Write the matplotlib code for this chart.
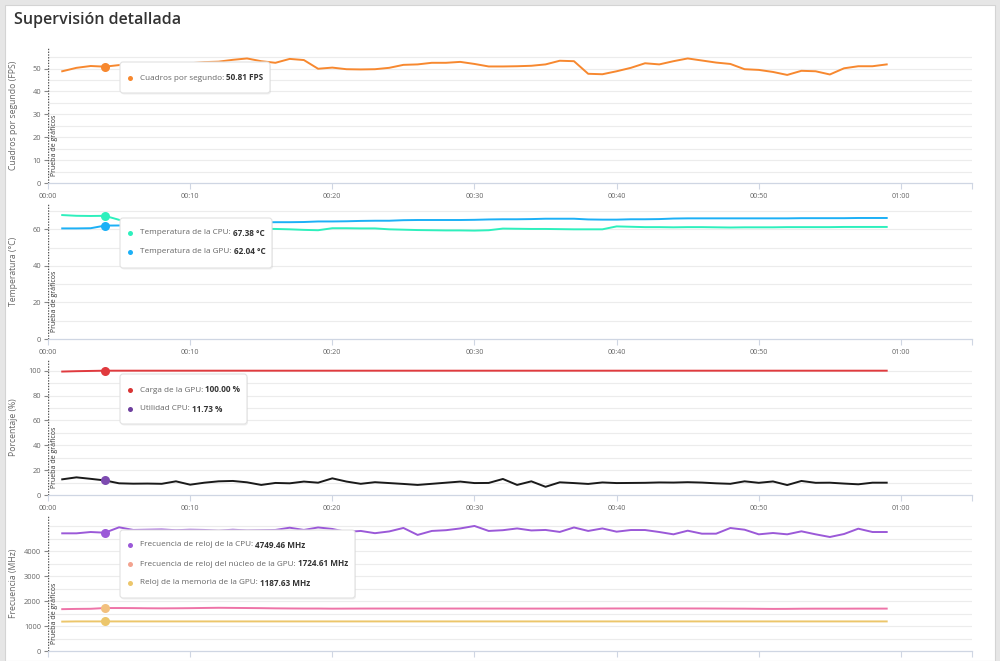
import matplotlib
matplotlib.use("Agg")
import matplotlib.pyplot as plt
from matplotlib.patches import FancyBboxPatch, Rectangle
from matplotlib.lines import Line2D
from matplotlib.transforms import IdentityTransform

plt.rcParams['font.family'] = ['Open Sans', 'DejaVu Sans']

# ---------------- data ----------------
seconds = list(range(1, 60))
x_ticks = [0, 10, 20, 30, 40, 50, 60]
x_tick_labels = ["00:00", "00:10", "00:20", "00:30", "00:40", "00:50", "01:00"]

fps = [48.8, 50.3, 51.1, 50.81, 51.5, 51.8, 51.6, 52.0, 51.4, 52.3, 52.8, 53.0, 53.8, 54.4, 53.2,
       52.5, 54.2, 53.7, 49.9, 50.4, 49.7, 49.6, 49.7, 50.3, 51.6, 51.8, 52.5, 52.5, 52.9, 52.0,
       50.9, 50.9, 51.0, 51.2, 51.8, 53.4, 53.2, 47.7, 47.5, 48.8, 50.3, 52.3, 51.8, 53.2, 54.4,
       53.5, 52.6, 52.0, 49.7, 49.4, 48.5, 47.2, 49.0, 48.8, 47.4, 50.1, 51.0, 51.0, 51.8]

cpu_temp = [67.8, 67.4, 67.3, 67.38, 65.2, 63.5, 62.8, 62.2, 61.8, 61.5, 61.2, 60.9, 60.6, 60.4, 60.3,
            60.2, 60.0, 59.7, 59.5, 60.6, 60.6, 60.5, 60.5, 60.0, 59.8, 59.6, 59.5, 59.4, 59.4, 59.3,
            59.5, 60.4, 60.3, 60.2, 60.2, 60.1, 60.0, 60.0, 60.0, 61.6, 61.4, 61.2, 61.2, 61.1, 61.2,
            61.2, 61.1, 61.0, 61.1, 61.1, 61.1, 61.2, 61.2, 61.2, 61.2, 61.3, 61.3, 61.3, 61.3]

gpu_temp = [60.5, 60.5, 60.6, 62.04, 62.1, 62.3, 62.5, 62.7, 62.9, 63.1, 63.3, 63.5, 63.6, 63.7, 63.8,
            63.9, 63.9, 64.0, 64.3, 64.3, 64.4, 64.6, 64.7, 64.7, 65.0, 65.1, 65.1, 65.1, 65.1, 65.2,
            65.4, 65.5, 65.5, 65.6, 65.8, 65.8, 65.8, 65.4, 65.3, 65.3, 65.5, 65.5, 65.6, 65.9, 66.0,
            66.0, 66.0, 66.0, 66.0, 66.0, 66.0, 66.0, 66.1, 66.1, 66.1, 66.1, 66.2, 66.2, 66.2]

gpu_load = [99.3, 99.6, 99.8, 100.0] + [100.0] * 55

cpu_util = [12.6, 14.2, 13.0, 11.73, 9.4, 9.1, 9.2, 9.0, 11.0, 8.3, 9.9, 11.0, 11.3, 10.2, 8.1,
            9.7, 9.4, 10.8, 9.9, 13.4, 10.8, 9.0, 10.3, 9.6, 8.9, 8.1, 9.0, 9.9, 10.8, 9.6,
            9.7, 12.9, 8.1, 11.0, 6.6, 10.2, 9.6, 8.9, 10.1, 9.6, 9.7, 9.8, 10.1, 10.0, 10.3,
            10.0, 9.4, 9.0, 11.0, 9.8, 10.9, 8.0, 11.3, 9.8, 9.9, 9.2, 8.6, 9.9, 9.9]

cpu_clock = [4724, 4724, 4777, 4749.46, 4966, 4860, 4870, 4880, 4850, 4870, 4860, 4830, 4870, 4840, 4850,
             4860, 4950, 4860, 4960, 4900, 4780, 4820, 4730, 4800, 4940, 4660, 4820, 4850, 4920, 5020,
             4820, 4850, 4920, 4840, 4860, 4780, 4960, 4820, 4920, 4790, 4857, 4857, 4777, 4684, 4830,
             4710, 4710, 4938, 4870, 4684, 4737, 4684, 4805, 4684, 4577, 4697, 4911, 4777, 4777]

gpu_core_clock = [1680, 1690, 1695, 1724.61, 1725, 1722, 1715, 1712, 1715, 1720, 1728, 1735, 1730, 1725, 1720,
                  1712, 1708, 1705, 1705, 1700, 1702, 1704, 1705, 1705, 1705, 1705, 1705, 1705, 1705, 1705,
                  1704, 1704, 1703, 1703, 1703, 1703, 1704, 1705, 1706, 1708, 1708, 1709, 1709, 1709, 1708,
                  1707, 1705, 1702, 1700, 1695, 1690, 1692, 1698, 1700, 1700, 1700, 1702, 1702, 1702]

gpu_mem_clock = [1180.0] + [1187.63] * 58

hover_index = 3  # t = 4 s

# ---------------- figure ----------------
W, H = 1000, 661
fig = plt.figure(figsize=(W / 100, H / 100), dpi=100)
fig.patch.set_facecolor('#e6e6e6')
PIX = IdentityTransform()

fig.add_artist(Rectangle((5, 0), 990, H - 5, transform=PIX, facecolor='white',
                         edgecolor='#d4d4d4', lw=0.8, zorder=-5))

fig.text(14 / W, 1 - 20 / H, "Supervisión detallada", fontsize=11.5, weight='semibold',
         color='#333333', va='center', ha='left')

GRID_C = '#ececec'
TXT_C = '#666666'

panels = [
    dict(top=47, bottom=183, ymax=59.4, grid=5, ticks=[0, 10, 20, 30, 40, 50],
         ylabel="Cuadros por segundo (FPS)",
         series=[(fps, '#f7882f', '#f7882f')]),
    dict(top=203, bottom=339, ymax=74.4, grid=10, ticks=[0, 20, 40, 60],
         ylabel="Temperatura (°C)",
         series=[(cpu_temp, '#2ef0bd', '#2ef0bd'), (gpu_temp, '#1cb0f6', '#1cb0f6')]),
    dict(top=359, bottom=495, ymax=109.4, grid=10, ticks=[0, 20, 40, 60, 80, 100],
         ylabel="Porcentaje (%)",
         series=[(gpu_load, '#e03a3e', '#e03a3e'), (cpu_util, '#1a1a1a', '#7d4bb0')]),
    dict(top=515, bottom=651, ymax=5460, grid=500, ticks=[0, 1000, 2000, 3000, 4000],
         ylabel="Frecuencia (MHz)",
         series=[(cpu_clock, '#9b59d8', '#9b59d8'), (gpu_core_clock, '#ee74a8', '#f2c07e'),
                 (gpu_mem_clock, '#ecc66b', '#ecc66b')]),
]

x_left, x_right = 48, 972
for p in panels:
    ax = fig.add_axes([x_left / W, 1 - p['bottom'] / H, (x_right - x_left) / W,
                       (p['bottom'] - p['top']) / H])
    ax.set_facecolor('none')
    ax.set_xlim(0, 65)
    ax.set_ylim(0, p['ymax'])
    g = 0
    while g <= p['ymax'] + 1e-9:
        if g > 0:
            ax.axhline(g, color=GRID_C, lw=0.8, zorder=0)
        g += p['grid']
    for s in ['top', 'right', 'left']:
        ax.spines[s].set_visible(False)
    ax.spines['bottom'].set_color('#cfd6e3')
    ax.spines['bottom'].set_linewidth(0.9)
    ax.axvline(0, color='#555555', lw=1.0, ls=(0, (1, 1)), zorder=3)
    ax.set_xticks(x_ticks)
    ax.set_xticklabels(x_tick_labels)
    ax.set_xticks([65], minor=True)
    ax.tick_params(axis='x', which='both', length=4, width=0.8, color='#cfd6e3',
                   labelsize=5.2, labelcolor=TXT_C, pad=3)
    ax.set_yticks(p['ticks'])
    ax.set_yticklabels([str(v) for v in p['ticks']])
    ax.tick_params(axis='y', length=3, width=0.8, color='#888888', labelsize=5.4,
                   labelcolor=TXT_C, pad=2)
    ax.set_ylabel(p['ylabel'], fontsize=6.2, color=TXT_C)
    ax.yaxis.set_label_coords((18 - x_left) / (x_right - x_left), 0.5)
    ax.text(6 / (x_right - x_left), 7 / (p['bottom'] - p['top']), "Prueba de gráficos",
            transform=ax.transAxes, rotation=90, fontsize=5.0, color='#333333',
            ha='center', va='bottom', zorder=4)
    for vals, lc, mc in p['series']:
        ax.plot(seconds, vals, color=lc, lw=1.4, zorder=5, solid_joinstyle='round')
        ax.plot([seconds[hover_index]], [vals[hover_index]], 'o', color=mc, ms=6.5,
                mew=0, zorder=6)

# ---------------- tooltips ----------------
fig.canvas.draw()
renderer = fig.canvas.get_renderer()

tooltips = [
    dict(box=(120, 62, 270, 93), rows=[(78, '#f7882f', "Cuadros por segundo: ", "50.81 FPS")]),
    dict(box=(120, 218, 272, 268), rows=[(233, '#2ef0bd', "Temperatura de la CPU: ", "67.38 °C"),
                                         (252, '#1cb0f6', "Temperatura de la GPU: ", "62.04 °C")]),
    dict(box=(120, 374, 247, 424), rows=[(390, '#d93535', "Carga de la GPU: ", "100.00 %"),
                                         (409, '#6e3f9e', "Utilidad CPU: ", "11.73 %")]),
    dict(box=(120, 530, 355, 598), rows=[(545, '#9b59d8', "Frecuencia de reloj de la CPU: ", "4749.46 MHz"),
                                         (564, '#f3a38f', "Frecuencia de reloj del núcleo de la GPU: ", "1724.61 MHz"),
                                         (583, '#ecc66b', "Reloj de la memoria de la GPU: ", "1187.63 MHz")]),
]

for tt in tooltips:
    x0, y0, x1, y1 = tt['box']
    fig.add_artist(FancyBboxPatch((x0 + 1, H - y1 - 1.5), x1 - x0, y1 - y0,
                                  boxstyle="round,pad=0,rounding_size=3", transform=PIX,
                                  facecolor='black', edgecolor='none', alpha=0.06, zorder=19))
    fig.add_artist(FancyBboxPatch((x0, H - y1), x1 - x0, y1 - y0,
                                  boxstyle="round,pad=0,rounding_size=3", transform=PIX,
                                  facecolor='white', edgecolor='#e2e2e2', lw=0.8, zorder=20))
    for ry, col, lab, val in tt['rows']:
        fig.add_artist(Line2D([130], [H - ry], marker='o', ms=3.6, mew=0, color=col,
                              transform=PIX, zorder=21))
        t1 = fig.text(140 / W, 1 - ry / H, lab, fontsize=5.9, color='#666666',
                      va='center', ha='left', zorder=21)
        bb = t1.get_window_extent(renderer=renderer)
        fig.text(bb.x1 / W, 1 - ry / H, val, fontsize=5.9, color='#333333', weight='bold',
                 va='center', ha='left', zorder=21)

fig.savefig("out.png", dpi=100, facecolor=fig.get_facecolor())
